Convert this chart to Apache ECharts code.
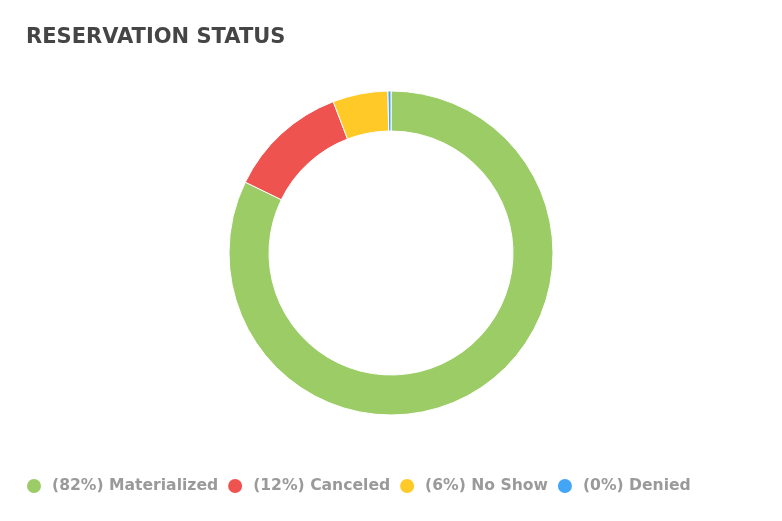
<!DOCTYPE html>
<html>
<head>
<meta charset="utf-8">
<script src="https://cdn.jsdelivr.net/npm/echarts@6/dist/echarts.min.js"></script>
<style>
html,body{margin:0;padding:0;background:#fff;}
#c{width:782px;height:521px;}
</style>
</head>
<body>
<div id="c"></div>
<script>
var categories = ['Materialized', 'Canceled', 'No Show', 'Denied'];
var values = [822, 120, 55, 3];
var colors = ['#9ccc65', '#ef5350', '#ffca28', '#42a5f5'];

var total = values.reduce(function(a, b){ return a + b; }, 0);
var pctMap = {};
categories.forEach(function(c, i){ pctMap[c] = Math.round(values[i] / total * 100); });

var chart = echarts.init(document.getElementById('c'), null, {renderer: 'canvas'});
chart.setOption({
  animation: false,
  color: colors,
  title: {
    text: 'RESERVATION STATUS',
    left: 26, top: 27,
    padding: 0,
    textStyle: {fontFamily: '"DejaVu Sans"', fontWeight: 'bold', fontSize: 21, color: '#454545'}
  },
  legend: {
    left: 25, top: 477,
    padding: 0,
    icon: 'circle',
    itemWidth: 26, itemHeight: 16,
    itemGap: 8,
    data: categories,
    formatter: function(name){ return '(' + pctMap[name] + '%) ' + name; },
    textStyle: {fontFamily: '"DejaVu Sans"', fontWeight: 'bold', fontSize: 15.6, color: '#9a9a9a'}
  },
  series: [{
    type: 'pie',
    center: [391, 253],
    radius: [122, 162],
    startAngle: 90,
    clockwise: true,
    label: {show: false},
    labelLine: {show: false},
    emphasis: {disabled: true},
    itemStyle: {borderColor: '#fff', borderWidth: 1},
    data: categories.map(function(c, i){ return {name: c, value: values[i]}; })
  }]
});
</script>
</body>
</html>
